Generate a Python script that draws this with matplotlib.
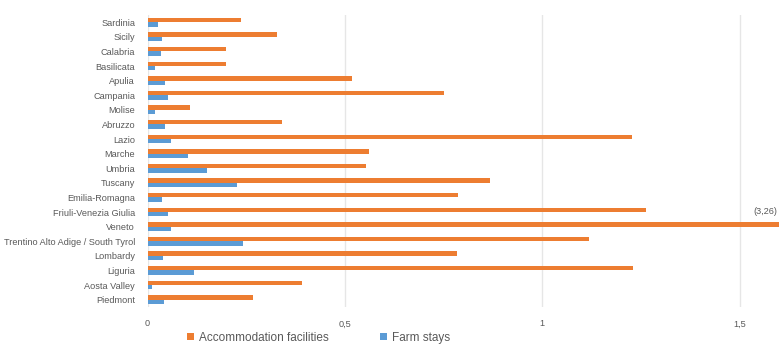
import matplotlib.pyplot as plt
import numpy as np

plt.rcParams['font.family'] = ['Liberation Sans', 'DejaVu Sans']

# regions listed bottom to top (Piedmont at the bottom of the chart)
regions = ["Piedmont", "Aosta Valley", "Liguria", "Lombardy",
           "Trentino Alto Adige / South Tyrol", "Veneto", "Friuli-Venezia Giulia",
           "Emilia-Romagna", "Tuscany", "Umbria", "Marche", "Lazio", "Abruzzo",
           "Molise", "Campania", "Apulia", "Basilicata", "Calabria", "Sicily", "Sardinia"]
accommodation = [0.267, 0.390, 1.229, 0.783, 1.118, 3.26, 1.262, 0.786, 0.867, 0.553,
                 0.561, 1.227, 0.340, 0.107, 0.751, 0.518, 0.199, 0.199, 0.328, 0.237]
farm_stays = [0.041, 0.012, 0.117, 0.039, 0.241, 0.060, 0.052, 0.036, 0.226, 0.150,
              0.103, 0.059, 0.044, 0.019, 0.052, 0.044, 0.019, 0.034, 0.036, 0.027]
xticks = [0, 0.5, 1, 1.5]
xtick_labels = ["0", "0,5", "1", "1,5"]

orange = "#ED7D31"
blue = "#5B9BD5"
grey = "#595959"

fig = plt.figure(figsize=(7.79, 3.48), dpi=100)
ax = fig.add_axes([0.1895, 0.118, 0.8105, 0.839])

y = np.arange(len(regions))
h = 0.3
ax.barh(y + h / 2, accommodation, height=h, color=orange, label="Accommodation facilities")
ax.barh(y - h / 2, farm_stays, height=h, color=blue, label="Farm stays")

ax.set_xlim(0, 1.6)
ax.set_ylim(-0.5, len(regions) - 0.5)
ax.set_yticks(y)
ax.set_yticklabels(regions, fontsize=6.6, color=grey)
ax.set_xticks(xticks)
ax.set_xticklabels(xtick_labels, fontsize=6.6, color=grey)
ax.tick_params(axis="both", length=0)
ax.tick_params(axis="y", pad=9)
ax.tick_params(axis="x", pad=9)
for s in ax.spines.values():
    s.set_visible(False)
ax.grid(axis="x", color="#e6e6e6", linewidth=1)
ax.set_axisbelow(True)

# Veneto bar runs off the chart, so its value is written at the edge
iv = regions.index("Veneto")
ax.annotate("(3,26)", xy=(1.6, iv + h / 2), xytext=(-1, 6), textcoords="offset points",
            ha="right", va="bottom", fontsize=6.6, color=grey)

fig.legend(loc="lower center", bbox_to_anchor=(0.409, -0.018), ncol=2, frameon=False,
           fontsize=8.5, handlelength=0.6, handleheight=0.6, handletextpad=0.4,
           columnspacing=4.4, labelcolor=grey)

fig.savefig("out.png", dpi=100)
